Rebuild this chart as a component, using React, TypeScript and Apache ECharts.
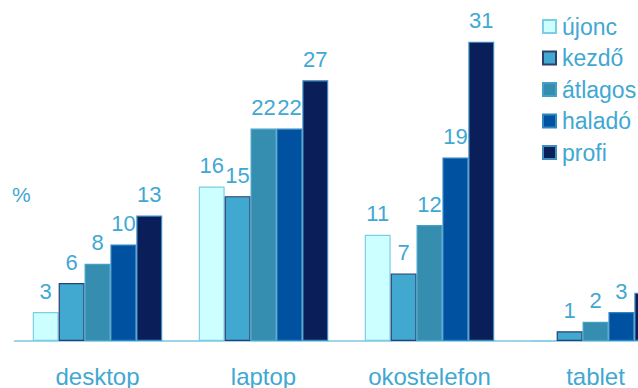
import React, { useEffect, useRef } from "react";
import * as echarts from "echarts";

const categories = ["desktop", "laptop", "okostelefon", "tablet"];
const seriesNames = ["újonc", "kezdő", "átlagos", "haladó", "profi"];
const ujonc = [3, 16, 11, 0];
const kezdo = [6, 15, 7, 1];
const atlagos = [8, 22, 12, 2];
const halado = [10, 22, 19, 3];
const profi = [13, 27, 31, 5];

const seriesValues = [ujonc, kezdo, atlagos, halado, profi];
const fills = ["#CCFFFF", "#41A8CF", "#358DAF", "#0051A0", "#0A1F5A"];
const borders = ["#7CCDE6", "#2B3F74", "#41A2C6", "#2E86C2", "#3F8EC0"];
const textColor = "#41A8D2";
const font = "'Liberation Sans', Arial, sans-serif";

export default function App() {
  const ref = useRef<HTMLDivElement>(null);
  useEffect(() => {
    if (!ref.current) return;
    const chart = echarts.init(ref.current, null, { renderer: "svg" });
    chart.setOption({
      animation: false,
      backgroundColor: "#ffffff",
      textStyle: { fontFamily: font },
      grid: { left: 14.5, top: 3, width: 664, height: 342, containLabel: false },
      legend: {
        orient: "vertical",
        left: 542,
        top: 15,
        padding: 0,
        itemWidth: 13,
        itemHeight: 13,
        itemGap: 8.5,
        icon: "rect",
        textStyle: { color: textColor, fontSize: 23, fontFamily: font, padding: [0, 0, 0, 1] },
        data: seriesNames,
      },
      xAxis: {
        type: "category",
        data: categories,
        axisLine: { show: true, lineStyle: { color: "#7FC6E2", width: 1.5 } },
        axisTick: { show: false },
        axisLabel: { color: textColor, fontSize: 24, margin: 23, fontFamily: font },
      },
      yAxis: {
        type: "value",
        min: 0,
        max: 35,
        show: false,
        splitLine: { show: false },
      },
      graphic: [
        {
          type: "text",
          left: 12,
          top: 184,
          style: { text: "%", fill: textColor, fontSize: 21, fontFamily: font },
        },
      ],
      series: seriesNames.map((name, i) => ({
        name,
        type: "bar",
        data: seriesValues[i],
        barGap: "0%",
        barCategoryGap: "22%",
        itemStyle: { color: fills[i], borderColor: borders[i], borderWidth: 1.2 },
        label: {
          show: true,
          position: "top",
          distance: 10,
          color: textColor,
          fontSize: 22,
          fontFamily: font,
          formatter: (p: any) => (p.value === 0 ? "" : String(p.value)),
        },
      })),
    });
    return () => chart.dispose();
  }, []);
  return (
    <div
      ref={ref}
      style={{ position: "fixed", left: 0, top: 0, width: 700, height: 388 }}
    />
  );
}
